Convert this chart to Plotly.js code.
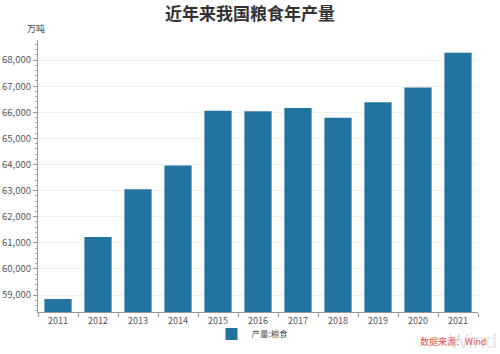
<!DOCTYPE html>
<html><head><meta charset="utf-8">
<script src="https://cdn.plot.ly/plotly-3.0.1.min.js"></script>
<style>body{margin:0;padding:0;background:#fff}#c{width:500px;height:354px}</style>
</head><body><div id="c"></div>
<script>
const years = ['2011','2012','2013','2014','2015','2016','2017','2018','2019','2020','2021'];
const grain = [58849, 61223, 63048, 63965, 66060, 66044, 66161, 65789, 66384, 66949, 68285];
const seriesName = '产量:粮食';
const titleText = '近年来我国粮食年产量';
const unitText = '万吨';
const sourceText = '数据来源：Wind';
const watermarkText = 'Wind';

const font = '"Noto Sans CJK SC", "Noto Sans", sans-serif';
const trace = {
  type: 'bar', x: years, y: grain, name: seriesName,
  marker: {color: '#22739f'}, showlegend: true
};
const layout = {
  width: 500, height: 354,
  margin: {l: 38, r: 22, t: 40, b: 42, autoexpand: false},
  paper_bgcolor: '#fff', plot_bgcolor: '#fff',
  font: {family: font, color: '#555', size: 9},
  title: {text: '<b>' + titleText + '</b>', x: 0.5, xanchor: 'center',
          yref: 'container', y: 0.96, yanchor: 'middle',
          font: {size: 17, color: '#333', family: font}},
  bargap: 0.32,
  xaxis: {
    type: 'category', showline: true, linecolor: '#999', linewidth: 1,
    ticks: 'outside', tickson: 'boundaries', ticklen: 4, tickcolor: '#999',
    tickfont: {size: 9, color: '#555'}, showgrid: false, fixedrange: true, automargin: false
  },
  yaxis: {
    range: [58350, 68770], dtick: 1000, tick0: 0, tickformat: ',d',
    showline: true, linecolor: '#999', linewidth: 1,
    ticks: 'outside', ticklen: 4, tickcolor: '#999',
    minor: {dtick: 200, ticks: 'outside', ticklen: 2, tickcolor: '#aaa', showgrid: false},
    showgrid: true, gridcolor: '#f0f0f0', gridwidth: 1,
    tickfont: {size: 9.5, color: '#555'}, zeroline: false, fixedrange: true, automargin: false
  },
  showlegend: true,
  legend: {orientation: 'h', xref: 'container', x: 0.505, xanchor: 'center',
           yref: 'container', y: 20/354, yanchor: 'middle', itemwidth: 30,
           bgcolor: 'rgba(0,0,0,0)', tracegroupgap: 0,
           font: {size: 8.5, color: '#555'}},
  annotations: [
    {text: unitText, xref: 'paper', yref: 'paper', x: 0, y: 1, xshift: -2, yshift: 3,
     xanchor: 'center', yanchor: 'bottom', showarrow: false, font: {size: 9, color: '#444'}},
    {text: watermarkText, xref: 'paper', yref: 'paper', x: 1, y: 0, xshift: 20, yshift: -41,
     xanchor: 'right', yanchor: 'bottom', showarrow: false, borderpad: 0,
     font: {size: 21, color: 'rgba(195,195,195,0.45)', family: 'Arial, sans-serif'}},
    {text: sourceText, xref: 'paper', yref: 'paper', x: 1, y: 0, xshift: 10, yshift: -38,
     xanchor: 'right', yanchor: 'bottom', showarrow: false, font: {size: 9, color: '#d9534f'}}
  ]
};
Plotly.newPlot('c', [trace], layout, {displayModeBar: false, staticPlot: true});
</script></body></html>
